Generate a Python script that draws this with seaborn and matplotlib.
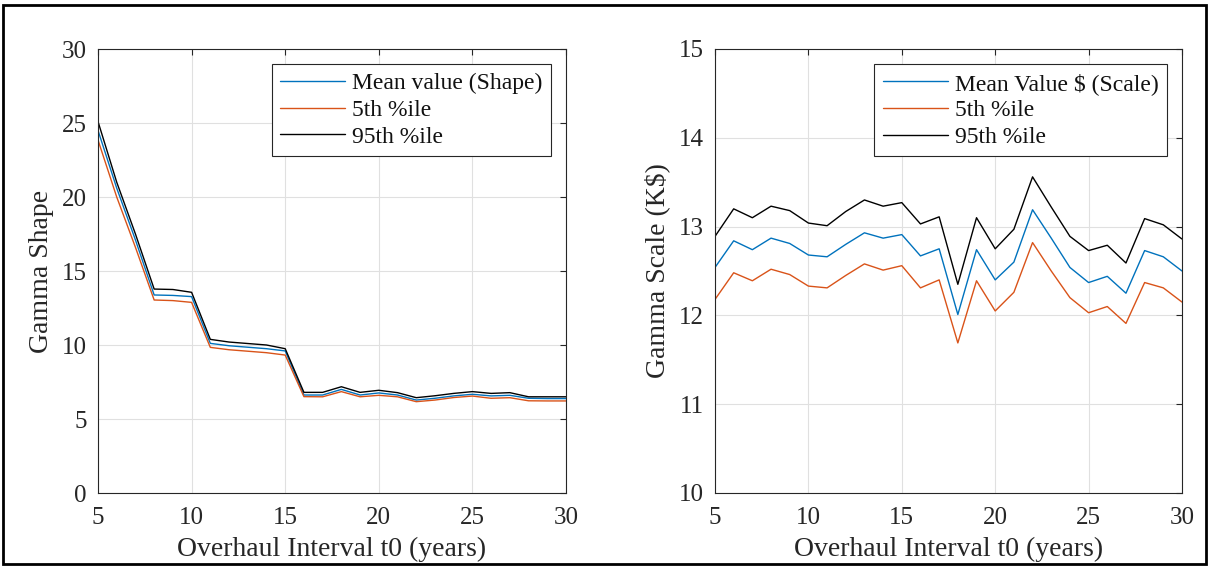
import matplotlib
matplotlib.use("Agg")
import matplotlib.pyplot as plt
import matplotlib.patches as mpatches
import seaborn as sns
import pandas as pd
import numpy as np

years = list(range(5, 31))

shape_mean = [24.5, 20.6, 17.1, 13.38, 13.35, 13.27, 10.11, 9.95, 9.85, 9.75, 9.6,
              6.62, 6.62, 7.0, 6.62, 6.76, 6.62, 6.28, 6.4, 6.56, 6.67, 6.56, 6.6,
              6.4, 6.38, 6.38]
shape_p5 = [23.85, 20.0, 16.6, 13.04, 13.0, 12.88, 9.84, 9.68, 9.58, 9.48, 9.32,
            6.51, 6.5, 6.85, 6.5, 6.6, 6.5, 6.17, 6.28, 6.45, 6.55, 6.4, 6.44,
            6.23, 6.22, 6.22]
shape_p95 = [25.1, 21.0, 17.5, 13.78, 13.75, 13.56, 10.38, 10.2, 10.1, 10.0, 9.75,
             6.8, 6.8, 7.18, 6.8, 6.94, 6.78, 6.44, 6.57, 6.73, 6.85, 6.73, 6.78,
             6.5, 6.5, 6.5]

scale_mean = [12.54, 12.84, 12.74, 12.87, 12.81, 12.68, 12.66, 12.80, 12.93, 12.87,
              12.91, 12.67, 12.75, 12.01, 12.74, 12.40, 12.60, 13.19, 12.87, 12.54,
              12.37, 12.44, 12.25, 12.73, 12.66, 12.50]
scale_p5 = [12.18, 12.48, 12.39, 12.52, 12.46, 12.33, 12.31, 12.45, 12.58, 12.51,
            12.56, 12.31, 12.40, 11.69, 12.39, 12.05, 12.26, 12.82, 12.50, 12.20,
            12.03, 12.10, 11.91, 12.37, 12.31, 12.15]
scale_p95 = [12.89, 13.20, 13.10, 13.23, 13.18, 13.04, 13.01, 13.17, 13.30, 13.23,
             13.27, 13.03, 13.11, 12.35, 13.10, 12.75, 12.97, 13.56, 13.22, 12.89,
             12.73, 12.79, 12.59, 13.09, 13.02, 12.86]

left_labels = ["Mean value (Shape)", "5th %ile", "95th %ile"]
right_labels = ["Mean Value $ (Scale)", "5th %ile", "95th %ile"]
colors = ["#0072BD", "#D95319", "#000000"]

sns.set_style("white")
plt.rcParams["font.family"] = ["Liberation Serif", "DejaVu Serif"]
plt.rcParams["mathtext.default"] = "regular"

fig = plt.figure(figsize=(12.09, 5.67), dpi=100)
ax1 = fig.add_axes([98/1209, 1-493/567, 468/1209, 444/567])
ax2 = fig.add_axes([715/1209, 1-493/567, 467/1209, 444/567])


def make_df(vals, labels):
    frames = []
    for v, lab in zip(vals, labels):
        frames.append(pd.DataFrame({"year": years, "value": v, "series": lab}))
    return pd.concat(frames, ignore_index=True)


df1 = make_df([shape_mean, shape_p5, shape_p95], left_labels)
df2 = make_df([scale_mean, scale_p5, scale_p95], right_labels)

sns.lineplot(data=df1, x="year", y="value", hue="series", palette=colors,
             ax=ax1, linewidth=1.0)
sns.lineplot(data=df2, x="year", y="value", hue="series", palette=colors,
             ax=ax2, linewidth=1.0)

axcol = "#262626"
for ax, ylim, yticks, ylabel in [
    (ax1, (0, 30), [0, 5, 10, 15, 20, 25, 30], "Gamma Shape"),
    (ax2, (10, 15), [10, 11, 12, 13, 14, 15], "Gamma Scale (K\\$)"),
]:
    ax.set_xlim(5, 30)
    ax.set_ylim(*ylim)
    ax.set_xticks([5, 10, 15, 20, 25, 30])
    ax.set_yticks(yticks)
    ax.grid(True, color="#e0e0e0", linewidth=0.8)
    ax.set_axisbelow(True)
    ax.tick_params(direction="in", length=4, labelsize=18, colors=axcol,
                   top=True, right=True)
    ax.tick_params(axis="x", pad=10)
    ax.tick_params(axis="y", pad=8)
    for sp in ax.spines.values():
        sp.set_color(axcol)
        sp.set_linewidth(0.8)
    ax.set_xlabel("Overhaul Interval t0 (years)", fontsize=20, color=axcol, labelpad=6)
    ax.set_ylabel(ylabel, fontsize=20, color=axcol, labelpad=6)
    leg = ax.legend(loc="upper right", fontsize=17, frameon=True, fancybox=False,
                    edgecolor=axcol, framealpha=1, handlelength=2.75,
                    borderaxespad=0.65, labelspacing=0.22, handletextpad=0.3,
                    borderpad=0.35)
    leg.get_frame().set_linewidth(0.8)
    for t in leg.get_texts():
        t.set_color("#111111")

fig.patches.append(mpatches.Rectangle((3/1209, 3/567), 1203/1209, 559/567,
                                      transform=fig.transFigure, fill=False,
                                      edgecolor="black", linewidth=2))

fig.savefig("out.png", dpi=100)
